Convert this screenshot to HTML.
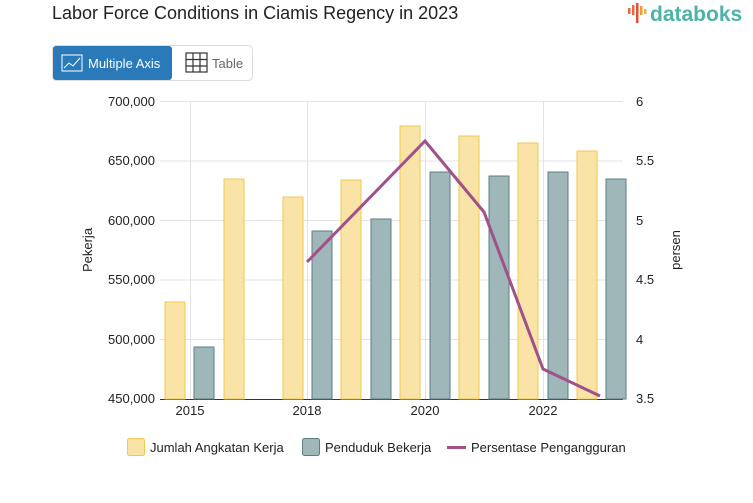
<!DOCTYPE html>
<html><head><meta charset="utf-8"><style>
body{margin:0;width:753px;height:498px;background:#fff;font-family:"Liberation Sans",sans-serif;overflow:hidden}
</style></head><body>
<svg width="753" height="498" xmlns="http://www.w3.org/2000/svg" font-family="Liberation Sans, sans-serif">
<text x="52" y="19" font-size="18" fill="#222">Labor Force Conditions in Ciamis Regency in 2023</text>
<g fill="#e8694a"><rect x="628" y="8" width="2.5" height="6"/><rect x="632" y="5" width="2.5" height="10"/><rect x="636" y="3" width="2.5" height="20" fill="#e0513a"/><rect x="640" y="6" width="2.5" height="9" fill="#f29a3a"/><rect x="644" y="9" width="2.5" height="5" fill="#f2b13a"/></g>
<text x="650" y="21" font-size="21" fill="#4bb3a8" font-weight="bold">databoks</text>
<rect x="52.5" y="45.5" width="200" height="35" rx="4" fill="#fff" stroke="#ddd"/>
<rect x="53" y="46" width="119" height="34" rx="3" fill="#2a7ab9"/>
<g stroke="#fff" fill="none" stroke-width="1"><rect x="62" y="55" width="20" height="16"/><path d="M64 68l5-5 4 3 7-8"/></g>
<text x="88" y="68" font-size="13" fill="#fff">Multiple Axis</text>
<g stroke="#333" fill="none" stroke-width="1.2"><rect x="186" y="53" width="21" height="19"/><path d="M186 59.5h21M186 66h21M193 53v19M200 53v19"/></g>
<text x="212" y="68" font-size="13" fill="#666">Table</text>
<g stroke="#e3e3e3" stroke-width="1">
<path d="M160 101.5H623M160 161H623M160 220.5H623M160 280H623M160 339.5H623"/>
<path d="M190.5 101V399M307.5 101V399M425.5 101V399M543.5 101V399"/>
</g>
<path d="M160 399.5H623" stroke="#333"/>
<g font-size="13" fill="#222" text-anchor="end">
<text x="155" y="106">700,000</text><text x="155" y="165">650,000</text><text x="155" y="225">600,000</text><text x="155" y="284">550,000</text><text x="155" y="344">500,000</text><text x="155" y="403">450,000</text></g>
<g font-size="13" fill="#222">
<text x="636" y="106">6</text><text x="636" y="165">5.5</text><text x="636" y="225">5</text><text x="636" y="284">4.5</text><text x="636" y="344">4</text><text x="636" y="403">3.5</text></g>
<text transform="translate(92,250) rotate(-90)" font-size="13" fill="#222" text-anchor="middle">Pekerja</text>
<text transform="translate(680,250) rotate(-90)" font-size="13" fill="#222" text-anchor="middle">persen</text>
<g font-size="13" fill="#222" text-anchor="middle"><text x="190" y="415">2015</text><text x="307" y="415">2018</text><text x="425" y="415">2020</text><text x="543" y="415">2022</text></g>
<g fill="#f9e3a6" stroke="#f0c850">
<rect x="165" y="302" width="20" height="97"/><rect x="224" y="179" width="20" height="220"/><rect x="283" y="197" width="20" height="202"/><rect x="341" y="180" width="20" height="219"/><rect x="400" y="126" width="20" height="273"/><rect x="459" y="136" width="20" height="263"/><rect x="518" y="143" width="20" height="256"/><rect x="577" y="151" width="20" height="248"/>
</g>
<g fill="#a0b7b9" stroke="#5a7f84">
<rect x="194" y="347" width="20" height="52"/><rect x="312" y="231" width="20" height="168"/><rect x="371" y="219" width="20" height="180"/><rect x="430" y="172" width="20" height="227"/><rect x="489" y="176" width="20" height="223"/><rect x="548" y="172" width="20" height="227"/><rect x="606" y="179" width="20" height="220"/>
</g>
<polyline points="307,262 425,141 484,212 543,369 600,396" fill="none" stroke="#a0508a" stroke-width="3"/>
<rect x="127.5" y="438.5" width="17" height="17" rx="2" fill="#f9e3a6" stroke="#f0c850"/>
<text x="150" y="452" font-size="13" fill="#222">Jumlah Angkatan Kerja</text>
<rect x="302.5" y="438.5" width="17" height="17" rx="2" fill="#a0b7b9" stroke="#5a7f84"/>
<text x="325" y="452" font-size="13" fill="#222">Penduduk Bekerja</text>
<path d="M447 447.5H466" stroke="#a0508a" stroke-width="3"/>
<text x="471" y="452" font-size="13" fill="#222">Persentase Pengangguran</text>
</svg>
</body></html>
